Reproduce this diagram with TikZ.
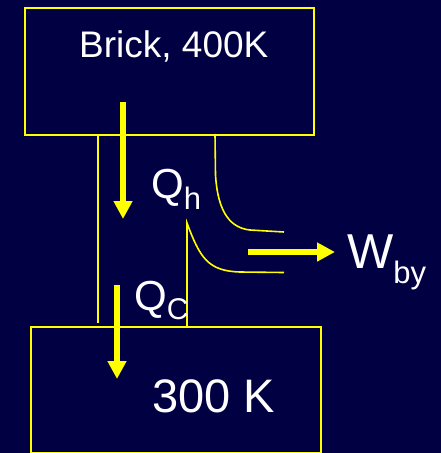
\documentclass[tikz,border=0pt]{standalone}
\usepackage{fontspec}
\setmainfont{Liberation Sans}
\usetikzlibrary{arrows.meta}
\definecolor{bgnavy}{RGB}{0,0,66}
\definecolor{ylw}{RGB}{255,255,0}
\begin{document}
\begin{tikzpicture}[x=1pt,y=-1pt,
  boxline/.style={draw=ylw,line width=1.6pt},
  wire/.style={draw=ylw,line width=1.6pt},
  flow/.style={draw=ylw,line width=6pt,-{Triangle[width=18pt,length=18pt]}},
  lbl/.style={text=white,anchor=base west,inner sep=0pt}]
\fill[bgnavy] (0,0) rectangle (441,453);
\useasboundingbox (0,0) rectangle (441,453);
% reservoirs
\node[boxline,minimum width=289pt,minimum height=127pt,inner sep=0pt,anchor=north west] (hot) at (24,7) {};
\node[boxline,minimum width=290pt,minimum height=126pt,inner sep=0pt,anchor=north west] (cold) at (30,326) {};
\node[lbl] (hottxt) at (79,57) {\fontsize{37}{40}\selectfont Brick, 400K};
\node[lbl] (coldtxt) at (152,412) {\fontsize{47}{50}\selectfont 300 K};
% engine walls
\coordinate (lt) at (98,134);
\coordinate (lb) at (98,323);
\draw[wire] (lt) -- (lb);
\coordinate (ut) at (215,134);
\coordinate (ue) at (284,232);
\draw[wire] (ut) -- (215.5,175) .. controls (218,215) and (232,228) .. (250,230) -- (ue);
\coordinate (rb) at (187,326);
\coordinate (rp) at (187,223);
\coordinate (re) at (284,272.5);
\draw[wire] (rb) -- (rp) .. controls (200,258) and (208,271) .. (240,272) -- (re);
% heat and work arrows
\coordinate (qh1) at (123,102);
\coordinate (qh2) at (123,219);
\draw[flow] (qh1) -- (qh2);
\coordinate (qc1) at (117,285);
\coordinate (qc2) at (117,379);
\draw[flow] (qc1) -- (qc2);
\coordinate (w1) at (248,252);
\coordinate (w2) at (335,252);
\draw[flow] (w1) -- (w2);
% labels
\node[lbl] (qh) at (151,198) {\fontsize{42}{44}\selectfont Q\raisebox{-11pt}{\fontsize{31}{32}\selectfont h}};
\node[lbl] (qc) at (134,310) {\fontsize{42}{44}\selectfont Q\raisebox{-9pt}{\fontsize{30}{32}\selectfont C}};
\node[lbl] (wby) at (347,268) {\fontsize{49}{50}\selectfont W\raisebox{-15pt}{\fontsize{31}{32}\selectfont by}};
\end{tikzpicture}
\end{document}
